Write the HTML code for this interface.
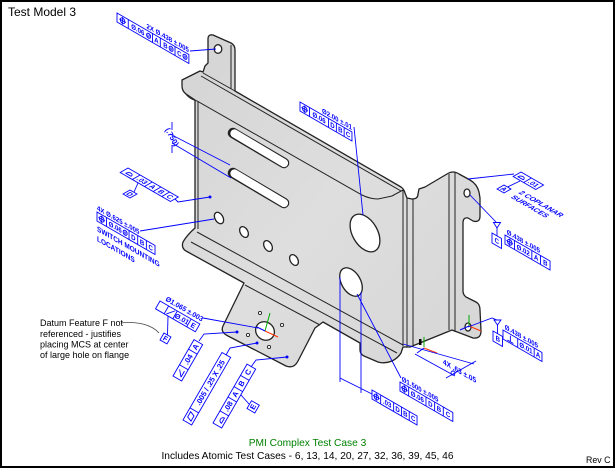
<!DOCTYPE html>
<html><head><meta charset="utf-8">
<style>
html,body{margin:0;padding:0;background:#fff;width:615px;height:468px;overflow:hidden}
svg{display:block}
.b{fill:none;stroke:#00f;stroke-width:0.9;vector-effect:non-scaling-stroke}
.t{font-family:"Liberation Sans",Arial,sans-serif;font-weight:bold;font-size:7px;fill:#00f;text-anchor:middle}
.s{text-anchor:start}
.e{text-anchor:end}
.m{font-size:3.4px}
.k{fill:none;stroke:#222;stroke-width:1}
.h{fill:#fff;stroke:#222;stroke-width:1.3}
.dot{fill:#00f}
</style></head><body>
<svg width="615" height="468" viewBox="0 0 615 468" xmlns="http://www.w3.org/2000/svg">
<defs>
<linearGradient id="g" x1="0" y1="0" x2="1" y2="1">
<stop offset="0" stop-color="#d4d4d4"/><stop offset="0.5" stop-color="#dedede"/><stop offset="1" stop-color="#d6d6d6"/>
</linearGradient>
</defs>
<rect x="1" y="1" width="613" height="466" fill="#fff" stroke="#000" stroke-width="2"/>
<text x="8" y="16" font-family="Liberation Sans, Arial, sans-serif" font-size="12" fill="#000">Test Model 3</text>

<!-- PART -->
<path d="M208,63 L208,39 Q208,34 213,35 L231,43 Q235,45 235,50 L235,91 L401,187 Q404,189 405,193 L407,198 L412,199 Q418,199 418,194 L419,189 L425,187 L447,174 Q453,170 459,174 L470,180 Q477,184 479,192 L480,198 L480,216 Q480,223 473,221 L468,218 Q463,217 463,223 L463,291 Q463,296 468,298 L476,302 Q480,304 480,310 L481,331 Q481,339 473,338 L452,330 L410,347 L403,347 L401,353 Q398,358 392,361 Q385,364 378,362 L364,356 Q360,354 360,350 L360,343 L323,322 L315,328 L298,361 Q294,369 286,366 L228,336 Q220,332 223,326 L244,283 L186,251 Q181,248 183,242 Q187,235 195,228 L195,100 L186,94 Q182,91 182,86 L182,80 L200,71 L203,72 L205,66 Z" fill="url(#g)" stroke="#222" stroke-width="1.3" stroke-linejoin="round"/>
<path class="k" d="M198,101 L198,229 M231,45 L231,89 M203,73 L235,91 M201,76 L401,191 M185,93 Q189,99 197,101 L362,195 Q370,199 378,199 L392,196 L403,190 M403,190 L403,346 M407,198 L407,347 M413,199 L413,345 M449,174 L449,330 M455,172 L455,332 M197,232 L403,345 M191,242 L397,353 M245,285 L320,325"/>
<!-- holes -->
<ellipse class="h" cx="218" cy="49" rx="3.8" ry="4.3"/>
<ellipse class="h" cx="467" cy="193" rx="3" ry="4"/>
<ellipse class="h" cx="468" cy="327" rx="3" ry="4"/>
<line x1="233" y1="133" x2="284" y2="163" stroke="#222" stroke-width="10.5" stroke-linecap="round"/>
<line x1="234.5" y1="133.5" x2="284" y2="163" stroke="#fff" stroke-width="8.2" stroke-linecap="round"/>
<line x1="233" y1="173" x2="284" y2="203" stroke="#222" stroke-width="10.5" stroke-linecap="round"/>
<line x1="234.5" y1="173.5" x2="284" y2="203" stroke="#fff" stroke-width="8.2" stroke-linecap="round"/>
<ellipse class="h" cx="219" cy="218" rx="6.2" ry="4" transform="rotate(60 219 218)"/>
<ellipse class="h" cx="244" cy="232" rx="5.8" ry="3.8" transform="rotate(60 244 232)"/>
<ellipse class="h" cx="268" cy="246" rx="5.8" ry="3.8" transform="rotate(60 268 246)"/>
<ellipse class="h" cx="294" cy="260" rx="5.8" ry="3.8" transform="rotate(60 294 260)"/>
<ellipse class="h" cx="365" cy="233" rx="20.5" ry="12.5" transform="rotate(60 365 233)"/>
<ellipse class="h" cx="351" cy="282" rx="15.5" ry="9.5" transform="rotate(60 351 282)"/>
<ellipse class="h" cx="265" cy="331" rx="9.8" ry="8.8" transform="rotate(40 265 331)"/>
<circle cx="260" cy="313" r="1.6" fill="#fff" stroke="#222" stroke-width="0.9"/>
<circle cx="282" cy="325" r="1.6" fill="#fff" stroke="#222" stroke-width="0.9"/>
<circle cx="248" cy="335" r="1.6" fill="#fff" stroke="#222" stroke-width="0.9"/>
<circle cx="269" cy="347" r="1.6" fill="#fff" stroke="#222" stroke-width="0.9"/>

<!-- axes markers -->
<path d="M265,331 L270,313" stroke="#0a0" stroke-width="1" fill="none"/>
<path d="M265,331 L278,337" stroke="#f30" stroke-width="1" fill="none"/>
<path d="M265,331 L257,327" stroke="#00f" stroke-width="1" fill="none"/>
<rect x="419" y="339" width="2.5" height="6" fill="#000"/>
<path d="M424,347 V337" stroke="#0a0" stroke-width="1"/>
<path d="M424,348 L437,353" stroke="#f30" stroke-width="1"/>
<path d="M424,348 L417,353" stroke="#00f" stroke-width="1"/>
<path d="M469,326 V315" stroke="#0a0" stroke-width="1"/>
<path d="M469,326 L481,331" stroke="#f30" stroke-width="1"/>
<path d="M469,326 L460,330" stroke="#00f" stroke-width="1"/>

<!-- LEADERS -->
<path class="b" d="M190,51 L216,49 M354,127 L363,215 M140,231 L214,219 M175,199 L178,202 L210,197 M172,122 V130 M172,145 V153 M170,134 L230,165 M172,143 L231,178 M468,179 L514,174 M470,195 L496,222 M468,327 L492,318 L497,320 M403,344 L474,364 M415,354 L455,376 M446,378 L476,361 M357,294 L401,378 M340,277 V382 M361,292 V393 M340,378 L372,394 M203,318 L258,328 M199,341 L204,334 L237,332 M226,355 L230,348 L257,343 M251,367 L256,360 L287,357 M241,395 L249,404 M168,316 L167.5,335 M138,183 L134,192 M520,181 L507.5,187 M497,228 L497,236 M497.5,325 L497.5,334"/>
<circle class="dot" cx="210" cy="197" r="1.5"/>
<circle class="dot" cx="237" cy="332" r="1.5"/>
<circle class="dot" cx="257" cy="343" r="1.5"/>
<circle class="dot" cx="287" cy="357" r="1.5"/>
<circle class="b" cx="453" cy="373" r="2"/>
<polygon class="b" points="493.5,222.5 500.5,222.5 497,228"/>
<polygon class="b" points="494,320 501,320 497.5,325"/>
<text class="t" transform="translate(172,137) rotate(60)" y="2.5" style="font-size:7.5px">(.750)</text>
<text class="t s" transform="matrix(0.866,0.5,0,1,443,364)" style="font-size:7.5px">4X .63 ±.05</text>

<!-- F1 -->
<g transform="matrix(0.866,0.5,0,1,117,13)">
<path class="b" d="M0,0H83V9H0Z M13,0V9 M41,0V9 M50,0V9 M67,0V9"/>
<circle class="b" cx="6.5" cy="4.5" r="2.6"/><path class="b" d="M2.7,4.5H10.3 M6.5,0.9V8.1"/>
<text class="t" x="24" y="7">Ø.06</text><circle class="b" cx="36.5" cy="4.5" r="2.3"/><text class="t m" x="36.5" y="5.8">M</text>
<text class="t" x="45.5" y="7">A</text>
<text class="t" x="56" y="7">B</text><circle class="b" cx="62.5" cy="4.5" r="2.3"/><text class="t m" x="62.5" y="5.8">M</text>
<text class="t" x="72" y="7">C</text><circle class="b" cx="78.5" cy="4.5" r="2.3"/><text class="t m" x="78.5" y="5.8">M</text>
<text class="t e" x="83" y="-2">2X Ø.438 ±.005</text>
</g>
<!-- F5 -->
<g transform="matrix(0.866,0.5,0,1,300,102)">
<path class="b" d="M0,0H60V9H0Z M11,0V9 M33,0V9 M42,0V9 M51,0V9"/>
<circle class="b" cx="5.5" cy="4.5" r="2.6"/><path class="b" d="M1.7,4.5H9.3 M5.5,0.9V8.1"/>
<text class="t" x="22" y="7">Ø.06</text><text class="t" x="37.5" y="7">D</text><text class="t" x="46.5" y="7">B</text><text class="t" x="55.5" y="7">C</text>
<text class="t e" x="60" y="-2">Ø2.00 ±.01</text>
</g>
<!-- F4 -->
<g transform="matrix(0.866,0.5,0,1,97,212)">
<path class="b" d="M0,0H67V9H0Z M11,0V9 M37,0V9 M47,0V9 M57,0V9"/>
<circle class="b" cx="5.5" cy="4.5" r="2.6"/><path class="b" d="M1.7,4.5H9.3 M5.5,0.9V8.1"/>
<text class="t" x="21" y="7">Ø.06</text><circle class="b" cx="32.5" cy="4.5" r="2.3"/><text class="t m" x="32.5" y="5.8">M</text>
<text class="t" x="42" y="7">D</text><text class="t" x="52" y="7">B</text><text class="t" x="62" y="7">C</text>
<text class="t s" x="0" y="-2">4X Ø.625 ±.005</text>
<text class="t s" x="0" y="19" style="font-size:7.5px">SWITCH MOUNTING</text>
<text class="t s" x="0" y="29" style="font-size:7.5px">LOCATIONS</text>
</g>
<!-- F3 -->
<g transform="matrix(0.866,0.5,-0.866,0.5,128,168)">
<path class="b" d="M0,0H58V9H0Z M14,0V9 M28,0V9 M38,0V9 M48,0V9 M4,6.5 A3,3 0 0 1 10,6.5 Z"/>
<text class="t" x="21" y="7">.03</text><text class="t" x="33" y="7">A</text><text class="t" x="43" y="7">B</text><text class="t" x="53" y="7">C</text>
</g>
<g transform="matrix(0.866,0.5,-0.866,0.5,130,190)"><rect class="b" width="8" height="8"/><text class="t" x="4" y="6.5">D</text></g>
<!-- F6 -->
<g transform="matrix(0.866,0.5,-0.866,0.5,521,172)">
<path class="b" d="M0,0H26V9H0Z M12,0V9 M3,6.5 A3,3 0 0 1 9,6.5 Z"/>
<text class="t" x="19" y="7">.01</text>
</g>
<g transform="matrix(0.866,0.5,-0.866,0.5,504,185)"><rect class="b" width="8" height="8"/><text class="t" x="4" y="6.5">A</text></g>
<g transform="matrix(0.866,0.5,-0.866,0.5,518,193)"><text class="t s" style="font-size:7.5px">2 COPLANAR</text><text class="t s" y="9" style="font-size:7.5px">SURFACES</text></g>
<!-- F7 -->
<g transform="matrix(0.866,0.5,0,1,505,235)">
<path class="b" d="M0,0H52V9H0Z M11,0V9 M31,0V9 M41,0V9"/>
<circle class="b" cx="5.5" cy="4.5" r="2.6"/><path class="b" d="M1.7,4.5H9.3 M5.5,0.9V8.1"/>
<text class="t" x="21" y="7">Ø.02</text><text class="t" x="36" y="7">A</text><text class="t" x="46.5" y="7">B</text>
<text class="t s" x="2" y="-2">Ø.438 ±.005</text>
</g>
<g transform="matrix(0.866,0.5,0,1,492,233)"><rect class="b" width="11" height="10"/><text class="t" x="5.5" y="7.5">C</text></g>
<!-- F8 -->
<g transform="matrix(0.866,0.5,0,1,503,330)">
<path class="b" d="M0,0H45V9H0Z M17,0V9 M36,0V9 M5,7.5H12 M8.5,7.5V1.5"/>
<text class="t" x="26.5" y="7">Ø.01</text><text class="t" x="40.5" y="7">A</text>
<text class="t s" x="2" y="-2">Ø.438 ±.005</text>
</g>
<g transform="matrix(0.866,0.5,0,1,493,331)"><rect class="b" width="11" height="10"/><text class="t" x="5.5" y="7.5">B</text></g>
<!-- F10 -->
<g transform="matrix(0.866,0.5,0,1,400,382)">
<path class="b" d="M0,0H61V9H0Z M10,0V9 M30,0V9 M40,0V9 M50,0V9"/>
<circle class="b" cx="5" cy="4.5" r="2.6"/><path class="b" d="M1.2,4.5H8.8 M5,0.9V8.1"/>
<text class="t" x="20" y="7">Ø.06</text><text class="t" x="35" y="7">D</text><text class="t" x="45" y="7">B</text><text class="t" x="55.5" y="7">C</text>
<text class="t s" x="2" y="-2">Ø1.500 ±.005</text>
</g>
<!-- F11 -->
<g transform="matrix(0.866,0.5,0,1,372,390)">
<path class="b" d="M0,0H52V9H0Z M10,0V9 M25,0V9 M34,0V9 M43,0V9"/>
<circle class="b" cx="5" cy="4.5" r="2.6"/><path class="b" d="M1.2,4.5H8.8 M5,0.9V8.1"/>
<text class="t" x="17.5" y="7">.03</text><text class="t" x="29.5" y="7">D</text><text class="t" x="38.5" y="7">B</text><text class="t" x="47.5" y="7">C</text>
</g>
<!-- F12 -->
<g transform="translate(160,301) rotate(30)">
<path class="b" d="M0,0H46V9H0Z M10,0V9 M20,0V9 M36,0V9 M12,8 L18,1"/>
<text class="t" x="28" y="7">Ø.01</text><text class="t" x="41" y="7">E</text>
<text class="t s" x="4" y="-3">Ø1.065 ±.003</text>
</g>
<g transform="translate(164,333) rotate(30)"><rect class="b" width="8" height="8"/><text class="t" x="4" y="6.5">F</text></g>
<!-- FA -->
<g transform="matrix(0.5,-0.866,0.866,0.5,173,376)">
<path class="b" d="M0,0H42V10H0Z M13,0V10 M31,0V10 M3,7.5H10 M3,7.5L9,2.5"/>
<text class="t" x="22" y="7.5" style="font-size:7.5px">.04</text><text class="t" x="36.5" y="7.5" style="font-size:7.5px">A</text>
</g>
<!-- FB -->
<g transform="matrix(0.5,-0.866,0.866,0.5,183,420)">
<path class="b" d="M0,0H78V10H0Z M14,0V10 M3,7.5H9L11,2.5H5Z"/>
<text class="t" x="46" y="7.5" style="font-size:7.5px">.005 / .25 X .25</text>
</g>
<!-- FC -->
<g transform="matrix(0.5,-0.866,0.866,0.5,213,423)">
<path class="b" d="M0,0H68V10H0Z M14,0V10 M30,0V10 M42,0V10 M55,0V10 M4,7.5 A3,3 0 0 1 10,7.5 Z"/>
<text class="t" x="22" y="7.5" style="font-size:7.5px">.08</text><text class="t" x="36" y="7.5" style="font-size:7.5px">A</text><text class="t" x="48.5" y="7.5" style="font-size:7.5px">B</text><text class="t" x="61.5" y="7.5" style="font-size:7.5px">C</text>
</g>
<g transform="matrix(0.5,-0.866,0.866,0.5,247,408.5)"><rect class="b" width="9" height="9"/><text class="t" x="4.5" y="7" style="font-size:7.5px">E</text></g>

<!-- Datum note -->
<path d="M121,323 C138,321 152,325 159,333" fill="none" stroke="#444" stroke-width="0.8"/>
<g font-family="Liberation Sans, Arial, sans-serif" font-size="9" fill="#000">
<text x="40" y="326">Datum Feature F not</text>
<text x="40" y="337">referenced - justifies</text>
<text x="40" y="347.5">placing MCS at center</text>
<text x="40" y="358">of large hole on flange</text>
</g>

<!-- footer -->
<text x="307.5" y="446" text-anchor="middle" font-family="Liberation Sans, Arial, sans-serif" font-size="10.2" fill="#008000">PMI Complex Test Case 3</text>
<text x="307.5" y="459" text-anchor="middle" font-family="Liberation Sans, Arial, sans-serif" font-size="10.2" fill="#000">Includes Atomic Test Cases - 6, 13, 14, 20, 27, 32, 36, 39, 45, 46</text>
<text x="586" y="463" font-family="Liberation Sans, Arial, sans-serif" font-size="8.8" fill="#000">Rev C</text>
</svg>
</body></html>
